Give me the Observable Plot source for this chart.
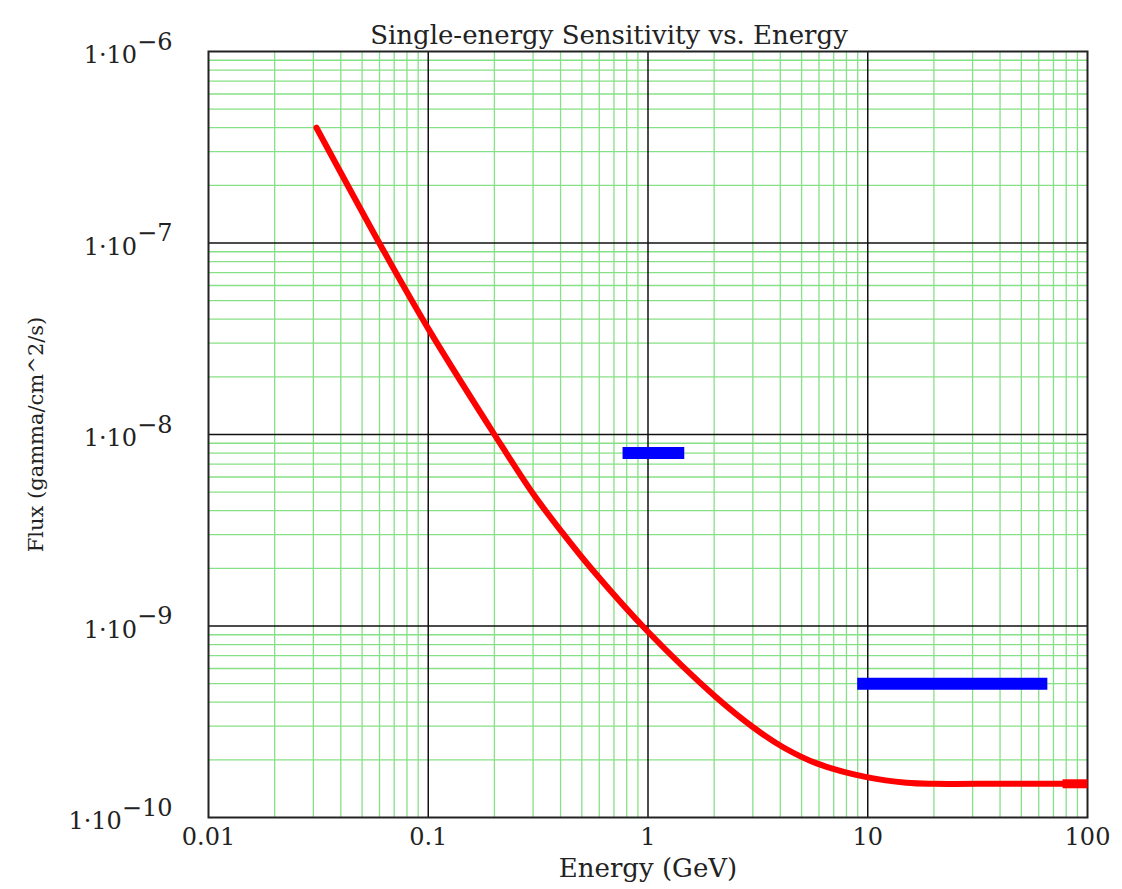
<!DOCTYPE html>
<html><head><meta charset="utf-8">
<script src="https://cdn.jsdelivr.net/npm/d3@7"></script>
<script src="https://cdn.jsdelivr.net/npm/@observablehq/plot@0.6"></script>
<style>body{margin:0;background:#fff} #chart svg{display:block}</style>
</head><body><div id="chart"></div>
<script>
// Sensitivity curve (Energy in GeV, Flux in gamma/cm^2/s)
const energy = [0.031, 0.063, 0.1, 0.2, 0.3, 0.4, 0.547, 1, 2.03, 3.02, 4.14, 5.9, 10, 15, 20, 40, 80];
const flux   = [4.0e-7, 9.0e-8, 3.57e-8, 1.0e-8, 4.9e-9, 3.16e-9, 2.02e-9, 9.33e-10, 4.27e-10, 2.95e-10, 2.32e-10, 1.91e-10, 1.62e-10, 1.52e-10, 1.5e-10, 1.5e-10, 1.5e-10];
// thicker end piece of the red curve
const tailEnergy = [77, 100];
const tailFlux = [1.5e-10, 1.5e-10];
// blue horizontal bars
const barFlux = [8.0e-9, 5.0e-10];
const barE1 = [0.77, 9.0];
const barE2 = [1.47, 66];
// ticks
const xTicks = [0.01, 0.1, 1, 10, 100];
const xTickLabels = ["0.01", "0.1", "1", "10", "100"];
const yTicks = [1e-10, 1e-9, 1e-8, 1e-7, 1e-6];
const yTickExp = ["\u221210", "\u22129", "\u22128", "\u22127", "\u22126"];
const title = "Single-energy Sensitivity vs. Energy";
const xLabel = "Energy (GeV)";
const yLabel = "Flux (gamma/cm^2/s)";

const curve = energy.map((e, i) => ({e, f: flux[i]}));
const tail = tailEnergy.map((e, i) => ({e, f: tailFlux[i]}));
const bars = barFlux.map((f, i) => ({f, x1: barE1[i], x2: barE2[i]}));

const minorX = [];
for (let k = -2; k <= 1; k++) for (let m = 2; m <= 9; m++) minorX.push(+(m + "e" + k));
const minorY = [];
for (let k = -10; k <= -7; k++) for (let m = 2; m <= 9; m++) minorY.push(+(m + "e" + k));

const chart = Plot.plot({
  width: 1122, height: 889,
  marginLeft: 208, marginRight: 35, marginTop: 51, marginBottom: 72,
  x: {type: "log", domain: [0.01, 100]},
  y: {type: "log", domain: [1e-10, 1e-6]},
  style: {fontFamily: "'DejaVu Serif', serif", background: "white", color: "#222"},
  marks: [
    Plot.ruleX(minorX, {stroke: "#86e086", strokeWidth: 1.3}),
    Plot.ruleY(minorY, {stroke: "#86e086", strokeWidth: 1.3}),
    Plot.ruleX(xTicks.slice(1, -1), {stroke: "#111", strokeWidth: 1.5}),
    Plot.ruleY(yTicks.slice(1, -1), {stroke: "#111", strokeWidth: 1.5}),
    Plot.frame({stroke: "#222", strokeWidth: 2}),
    Plot.line(curve, {x: "e", y: "f", stroke: "#ff0000", strokeWidth: 6, curve: "catmull-rom", strokeLinecap: "round"}),
    Plot.line(tail, {x: "e", y: "f", stroke: "#ff0000", strokeWidth: 9, strokeLinecap: "butt"}),
    Plot.ruleY(bars, {y: "f", x1: "x1", x2: "x2", stroke: "#0000ff", strokeWidth: 12}),
    Plot.axisX(xTicks, {tickSize: 0, tickPadding: 10, fontSize: 24, tickFormat: d => xTickLabels[xTicks.indexOf(d)], label: null}),
    Plot.axisY(yTicks, {tickSize: 0, tickPadding: 36, fontSize: 24, dy: 4, tickFormat: d => "1\u00b710|" + yTickExp[yTicks.indexOf(d)], label: null}),
    Plot.text([title], {text: d => d, frameAnchor: "top", dy: -26, dx: -39, fontSize: 26, fill: "#222"}),
    Plot.text([xLabel], {text: d => d, frameAnchor: "bottom", dy: 59, fontSize: 26, fill: "#222"}),
    Plot.text([yLabel], {text: d => d, frameAnchor: "left", textAnchor: "middle", dx: -172, rotate: -90, fontSize: 21, fill: "#222"})
  ]
});
document.getElementById("chart").appendChild(chart);

// superscript exponents on y tick labels
chart.querySelectorAll('g[aria-label="y-axis tick label"] text').forEach(t => {
  const parts = t.textContent.split("|");
  if (parts.length < 2) return;
  t.textContent = parts[0];
  const ts = document.createElementNS("http://www.w3.org/2000/svg", "tspan");
  ts.setAttribute("dy", "-0.55em");
  ts.textContent = parts[1];
  t.appendChild(ts);
});
</script>
</body></html>
